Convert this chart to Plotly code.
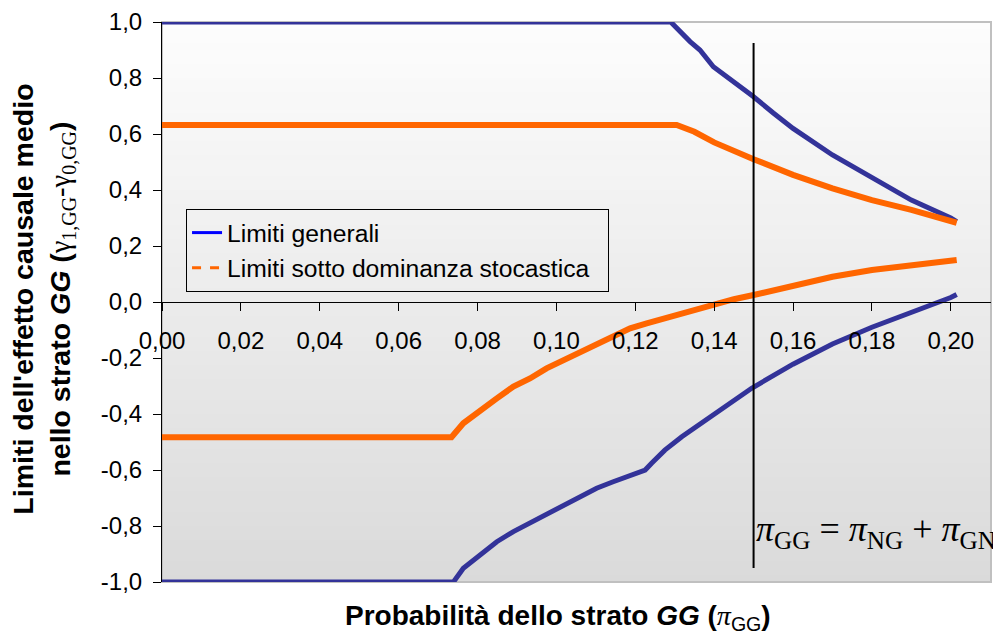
import plotly.graph_objects as go

# ---------------- data ----------------
gen_up_x = [0.0, 0.129, 0.1339, 0.1364, 0.1398, 0.145, 0.15, 0.155, 0.16, 0.17, 0.18, 0.19, 0.20, 0.2015]
gen_up_y = [1.0, 1.0, 0.93, 0.90, 0.84, 0.787, 0.733, 0.675, 0.62, 0.525, 0.442, 0.364, 0.30, 0.287]

gen_lo_x = [0.0, 0.0739, 0.0764, 0.0806, 0.0849, 0.0891, 0.0933, 0.0975, 0.1018, 0.106, 0.1102, 0.1144,
            0.1187, 0.1225, 0.1242, 0.1275, 0.1318, 0.136, 0.1402, 0.1444, 0.1495, 0.16, 0.17, 0.18,
            0.19, 0.20, 0.2015]
gen_lo_y = [-1.0, -1.0, -0.951, -0.904, -0.856, -0.820, -0.790, -0.755, -0.725, -0.695, -0.665, -0.642,
            -0.618, -0.600, -0.575, -0.529, -0.481, -0.439, -0.398, -0.356, -0.308, -0.222, -0.150, -0.090,
            -0.038, 0.016, 0.027]

sd_up_x = [0.0, 0.1305, 0.135, 0.14, 0.15, 0.16, 0.17, 0.18, 0.19, 0.20, 0.2015]
sd_up_y = [0.632, 0.632, 0.608, 0.570, 0.510, 0.454, 0.406, 0.364, 0.329, 0.292, 0.283]

sd_lo_x = [0.0, 0.0734, 0.0764, 0.0806, 0.0849, 0.0891, 0.0933, 0.0975, 0.1018, 0.106, 0.1102, 0.1144,
           0.1187, 0.1229, 0.13, 0.135, 0.14, 0.145, 0.15, 0.16, 0.17, 0.18, 0.19, 0.20, 0.2015]
sd_lo_y = [-0.483, -0.483, -0.433, -0.386, -0.344, -0.302, -0.273, -0.237, -0.207, -0.177, -0.148, -0.121,
           -0.094, -0.076, -0.048, -0.027, -0.008, 0.010, 0.025, 0.058, 0.090, 0.114, 0.132, 0.148, 0.150]

x_tick_vals = [0.00, 0.02, 0.04, 0.06, 0.08, 0.10, 0.12, 0.14, 0.16, 0.18, 0.20]
x_tick_text = ["0,00", "0,02", "0,04", "0,06", "0,08", "0,10", "0,12", "0,14", "0,16", "0,18", "0,20"]
y_tick_vals = [1.0, 0.8, 0.6, 0.4, 0.2, 0.0, -0.2, -0.4, -0.6, -0.8, -1.0]
y_tick_text = ["1,0", "0,8", "0,6", "0,4", "0,2", "0,0", "-0,2", "-0,4", "-0,6", "-0,8", "-1,0"]

legend_names = ["Limiti generali", "Limiti sotto dominanza stocastica"]
ref_x = 0.15            # vertical reference line  pi_GG = pi_NG + pi_GN
ref_y0, ref_y1 = -0.95, 0.925

# ---------------- style ----------------
BLUE = "#333399"
ORANGE = "#FF6600"
SANS = "Liberation Sans, Arial, sans-serif"
SERIF = "Liberation Serif, Times New Roman, serif"
PAD = "\u00a0\u00a0"   # right padding inside the legend box

fig = go.Figure()

for xs, ys in [(gen_up_x, gen_up_y), (gen_lo_x, gen_lo_y)]:
    fig.add_trace(go.Scatter(x=xs, y=ys, mode="lines", showlegend=False,
                             line=dict(color=BLUE, width=5), hoverinfo="skip"))
for xs, ys in [(sd_up_x, sd_up_y), (sd_lo_x, sd_lo_y)]:
    fig.add_trace(go.Scatter(x=xs, y=ys, mode="lines", showlegend=False,
                             line=dict(color=ORANGE, width=6), hoverinfo="skip"))

# legend samples
fig.add_trace(go.Scatter(x=[None], y=[None], mode="lines", name=legend_names[0],
                         line=dict(color="#0000FF", width=3)))
fig.add_trace(go.Scatter(x=[None], y=[None], mode="lines", name=legend_names[1] + PAD,
                         line=dict(color=ORANGE, width=3, dash="dash")))

# gradient background strips
shapes = []
N = 80
top_c, bot_c = 253, 218
for i in range(N):
    t = (i + 0.5) / N
    c = round(bot_c + (top_c - bot_c) * t)
    shapes.append(dict(type="rect", xref="paper", yref="paper", x0=0, x1=1,
                       y0=i / N, y1=(i + 1) / N + 0.002, layer="below",
                       fillcolor=f"rgb({c},{c},{c})", line=dict(width=0)))
shapes.append(dict(type="rect", xref="paper", yref="paper", x0=0, x1=1, y0=0, y1=1,
                   layer="below", line=dict(color="#C0C0C0", width=2)))
shapes.append(dict(type="line", xref="x", yref="y", x0=ref_x, x1=ref_x, y0=ref_y0, y1=ref_y1,
                   line=dict(color="black", width=2)))

annotations = [
    dict(xref="paper", yref="paper", x=-0.143, y=0.505, textangle=-90, showarrow=False,
         xanchor="center", yanchor="middle",
         text=("<b>Limiti dell'effetto causale medio</b><br><b>nello strato <i>GG</i> (</b>"
               f"<span style='font-family:{SERIF}'>γ<sub>1,GG</sub>-γ<sub>0,GG</sub></span><b>)</b>"),
         font=dict(family=SANS, size=28.5, color="black")),
    dict(xref="paper", yref="paper", x=0.478, y=-0.064, showarrow=False,
         xanchor="center", yanchor="middle",
         text=(f"<b>Probabilità dello strato <i>GG</i> (</b><span style='font-family:{SERIF}'><i>π</i></span>"
               "<sub>GG</sub><b>)</b>"),
         font=dict(family=SANS, size=28, color="black")),
    dict(xref="x", yref="y", x=ref_x, y=-0.82, showarrow=False, xanchor="left", yanchor="middle",
         xshift=0,
         text="<i>π</i><sub>GG</sub> = <i>π</i><sub>NG</sub> + <i>π</i><sub>GN</sub>",
         font=dict(family=SERIF, size=36, color="black")),
]

# the page body has an 8px default margin, so the figure is 8px smaller and margins shifted
fig.update_layout(
    width=993, height=629,
    margin=dict(l=154, r=10, t=14, b=55, autoexpand=False),
    paper_bgcolor="white", plot_bgcolor="rgba(0,0,0,0)",
    font=dict(family=SANS, size=24, color="black"),
    shapes=shapes, annotations=annotations,
    showlegend=True,
    legend=dict(x=0.029, y=0.666, xanchor="left", yanchor="top",
                bgcolor="rgba(0,0,0,0)", bordercolor="black", borderwidth=1,
                font=dict(family=SANS, size=24.7, color="black"),
                itemwidth=30, tracegroupgap=0),
    xaxis=dict(range=[0, 0.2102], tickmode="array", tickvals=x_tick_vals, ticktext=x_tick_text,
               anchor="free", position=0.5, showline=True, linecolor="black", linewidth=1,
               ticks="outside", ticklen=8, tickcolor="black", showgrid=False, zeroline=False,
               automargin=False, ticklabelstandoff=9, tickfont=dict(size=24)),
    yaxis=dict(range=[-1, 1], tickmode="array", tickvals=y_tick_vals, ticktext=y_tick_text,
               showline=True, linecolor="black", linewidth=1,
               ticks="outside", ticklen=8, tickcolor="black", showgrid=False, zeroline=False,
               automargin=False, ticklabelstandoff=6, tickfont=dict(size=24)),
)

fig.write_html("out.html")
